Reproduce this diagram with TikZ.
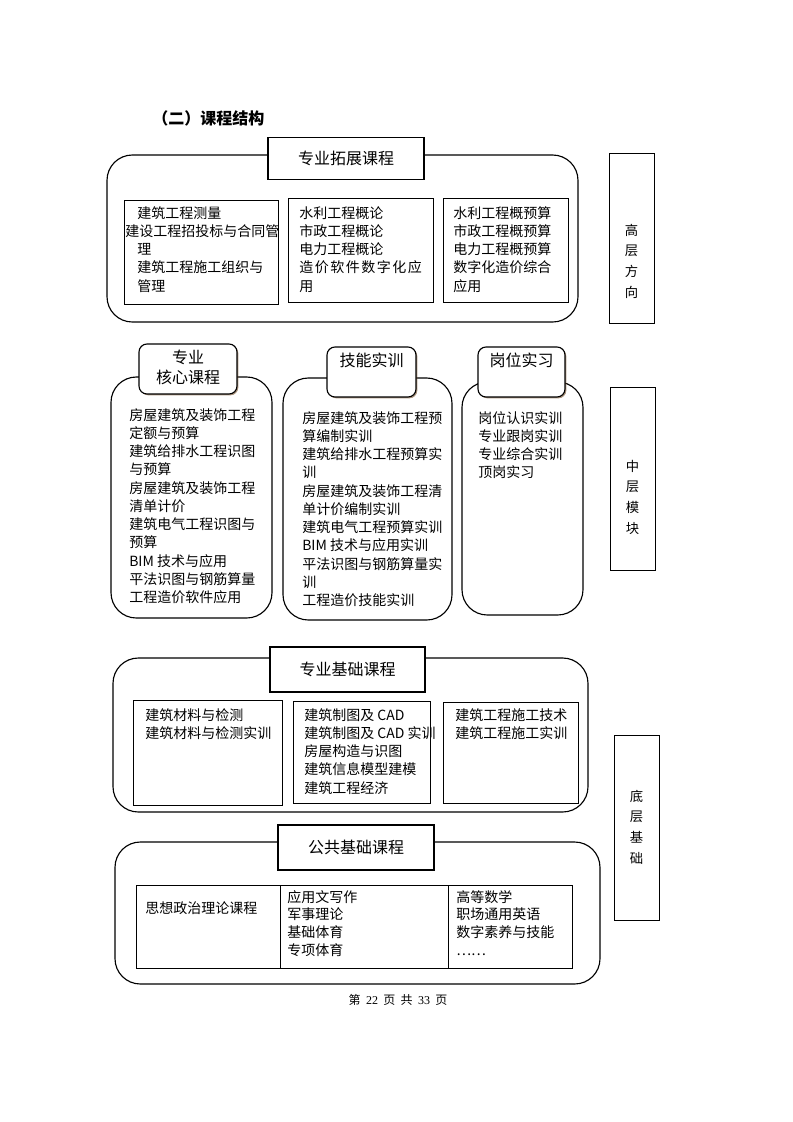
\documentclass[tikz,border=0pt]{standalone}
\usepackage{fontspec}
\setmainfont{Noto Sans CJK SC}
\newfontfamily\numfont{Liberation Serif}
\usetikzlibrary{shadows}

\begin{document}
\begin{tikzpicture}[x=0.75pt, y=-0.75pt,
    frame/.style={draw, line width=0.85pt, rounded corners=19pt},
    titlebox/.style={draw, rectangle, line width=0.8pt, fill=white, font=\fontsize{12}{15}\selectfont},
    headbox/.style={draw, rectangle, line width=0.85pt, fill=white, rounded corners=6pt,
        drop shadow={shadow xshift=1pt, shadow yshift=-1pt, fill=brown!60!black, opacity=0.6}},
    head/.style={align=center, inner sep=0pt, font=\fontsize{12}{15}\selectfont},
    subbox/.style={draw, line width=0.75pt},
    course/.style={anchor=north west, inner sep=0pt, align=left, font=\fontsize{10.5}{13.7}\selectfont},
    sidebox/.style={draw, rectangle, line width=0.75pt, minimum width=33.75pt},
    side/.style={align=center, inner sep=0pt, font=\fontsize{10}{15.5}\selectfont}]
    \useasboundingbox (0,0) rectangle (793,1122);

    \node[anchor=west, inner sep=0pt, font=\fontsize{12}{15}\selectfont\bfseries] (title) at (152,118) {（二）课程结构};

    % 高层方向
    \draw[frame] (107,155) rectangle (578,322);
    \node[titlebox, minimum width=117pt, minimum height=32pt] (expand) at (346,158.5) {专业拓展课程};
    \draw[subbox] (124,200) rectangle (278,304);
    \draw[subbox] (288,198) rectangle (433,302);
    \draw[subbox] (443,198) rectangle (568,302);
    \node[course] (expandA) at (137,206) {建筑工程测量\\\hspace*{-9pt}建设工程招投标与合同管\\理\\建筑工程施工组织与\\管理};
    \node[course] (expandB) at (299,206) {水利工程概论\\市政工程概论\\电力工程概论\\\makebox[92pt][l]{造\hfill 价\hfill 软\hfill 件\hfill 数\hfill 字\hfill 化\hfill 应}\\用};
    \node[course] (expandC) at (453,206) {水利工程概预算\\市政工程概预算\\电力工程概预算\\数字化造价综合\\应用};

    \node[sidebox, minimum height=127.5pt] (high) at (631.5,238) {};
    \node[side] (hightext) at (631.5,261) {高\\层\\方\\向};

    % 中层模块
    \draw[frame] (111,377) rectangle (272,618);
    \node[headbox, minimum width=73.5pt, minimum height=37.5pt] (corehead) at (188,369) {};
    \node[head] (coretitle) at (188,367) {专业\\核心课程};
    \node[course] (core) at (129,408) {房屋建筑及装饰工程\\定额与预算\\建筑给排水工程识图\\与预算\\房屋建筑及装饰工程\\清单计价\\建筑电气工程识图与\\预算\\BIM 技术与应用\\平法识图与钢筋算量\\工程造价软件应用};

    \draw[frame] (283,378) rectangle (452,620);
    \node[headbox, minimum width=66.75pt, minimum height=37.5pt] (skillhead) at (371.5,372) {};
    \node[head] (skilltitle) at (371.5,360) {技能实训};
    \node[course] (skill) at (302,411) {房屋建筑及装饰工程预\\算编制实训\\建筑给排水工程预算实\\训\\房屋建筑及装饰工程清\\单计价编制实训\\建筑电气工程预算实训\\BIM 技术与应用实训\\平法识图与钢筋算量实\\训\\工程造价技能实训};

    \draw[frame] (462,382) rectangle (583,615);
    \node[headbox, minimum width=65.25pt, minimum height=37.5pt] (posthead) at (521.5,372) {};
    \node[head] (posttitle) at (521.5,360) {岗位实习};
    \node[course] (post) at (478,411) {岗位认识实训\\专业跟岗实训\\专业综合实训\\顶岗实习};

    \node[sidebox, minimum height=137.25pt] (mid) at (632.5,478.5) {};
    \node[side] (midtext) at (632.5,497) {中\\层\\模\\块};

    % 底层基础
    \draw[frame] (113,658) rectangle (588,812);
    \node[titlebox, minimum width=116.25pt, minimum height=33.75pt] (basic) at (347.5,669.5) {专业基础课程};
    \draw[subbox] (133,700) rectangle (282,805);
    \draw[subbox] (293,701) rectangle (430,803);
    \draw[subbox] (443,702) rectangle (578,803);
    \node[course] (basicA) at (145,708) {建筑材料与检测\\建筑材料与检测实训};
    \node[course] (basicB) at (304,708) {建筑制图及 CAD\\建筑制图及 CAD 实训\\房屋构造与识图\\建筑信息模型建模\\建筑工程经济};
    \node[course] (basicC) at (455,708) {建筑工程施工技术\\建筑工程施工实训};

    \draw[frame] (115,842) rectangle (600,984);
    \node[titlebox, minimum width=117pt, minimum height=33.75pt] (public) at (356,847.5) {公共基础课程};
    \draw[line width=0.6pt] (136,885) rectangle (572,968);
    \draw[line width=0.6pt] (280,885) -- (280,968);
    \draw[line width=0.6pt] (448,885) -- (448,968);
    \node[course] (publicA) at (145,901) {思想政治理论课程};
    \node[course, font=\fontsize{10.5}{13.3}\selectfont] (publicB) at (287,890) {应用文写作\\军事理论\\基础体育\\专项体育};
    \node[course, font=\fontsize{10.5}{13.3}\selectfont] (publicC) at (456,890) {高等数学\\职场通用英语\\数字素养与技能\\……};

    \node[sidebox, minimum height=138.75pt] (low) at (636.5,827.5) {};
    \node[side] (lowtext) at (636.5,827) {底\\层\\基\\础};

    \node[font=\fontsize{9}{11}\selectfont] (page) at (398,1000) {第\hspace{4pt}{\numfont 22}\hspace{4pt}页\hspace{4pt}共\hspace{4pt}{\numfont 33}\hspace{4pt}页};
\end{tikzpicture}
\end{document}
